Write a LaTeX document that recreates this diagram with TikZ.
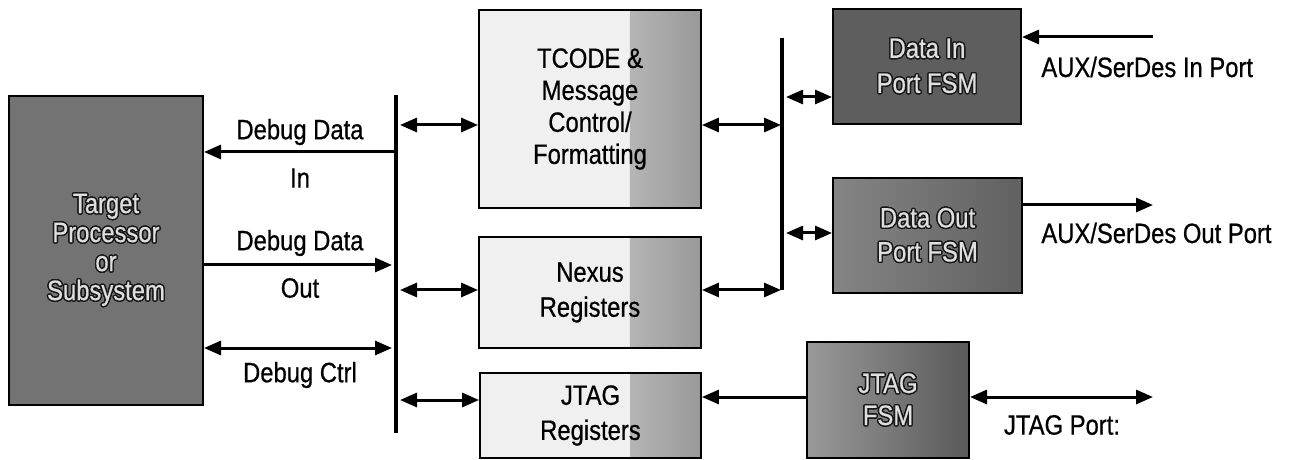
\documentclass[tikz,border=0pt]{standalone}
\usepackage{fontspec}
\setmainfont[FakeStretch=0.85,FakeBold=0.6]{Liberation Sans}
\usepackage{contour}
\contourlength{0.7pt}
\usetikzlibrary{arrows.meta,calc}
\newcommand{\ot}[1]{\contour{black!90}{\textcolor{gray!25}{#1}}}
\begin{document}
\begin{tikzpicture}[x=0.5pt,y=-0.5pt,
  font=\fontsize{14}{16}\selectfont,
  lightbox/.style={draw=black, line width=0.9pt, fill=black!6, align=center, inner sep=0pt,
    path picture={\shade[left color=black!6, right color=black!40]
      ($(path picture bounding box.north east)!0.32!(path picture bounding box.north west)$)
      rectangle (path picture bounding box.south east);}},
  darkbox/.style={draw=black, line width=1pt, align=center, inner sep=0pt},
  bus/.style={line width=1.6pt},
  arr/.style={line width=1.5pt, -{Triangle[length=8.5pt,width=7pt]}},
  dbl/.style={line width=1.5pt, {Triangle[length=8.5pt,width=7pt]}-{Triangle[length=8.5pt,width=7pt]}},
  lbl/.style={inner sep=0pt}
]
\useasboundingbox (0,0) rectangle (1303,460);

% boxes
\node[darkbox, fill=black!55, minimum width=97pt, minimum height=154.5pt, font=\fontsize{14}{14.5}\selectfont]
  (tgt) at (106,250.5) {\ot{Target}\\\ot{Processor}\\\ot{or}\\\ot{Subsystem}};
\node[lightbox, minimum width=111pt, minimum height=99pt] (tc) at (590,109)
  {TCODE \&\\Message\\Control/\\Formatting};
\node[lightbox, minimum width=111pt, minimum height=55.5pt, font=\fontsize{14}{17.5}\selectfont] (nx) at (590,292.5)
  {Nexus\\Registers};
\node[lightbox, minimum width=110.5pt, minimum height=42.5pt, font=\fontsize{14}{17.5}\selectfont] (jr) at (590.5,415.5)
  {JTAG\\Registers};
\node[darkbox, fill=black!63, minimum width=94pt, minimum height=57.5pt, font=\fontsize{14}{17.5}\selectfont] (din) at (927,66.5)
  {\ot{Data In}\\\ot{Port FSM}};
\node[darkbox, left color=black!48, right color=black!62, minimum width=94.5pt, minimum height=57.5pt, font=\fontsize{14}{17}\selectfont] (dout) at (927.5,235.5)
  {\ot{Data Out}\\\ot{Port FSM}};
\node[darkbox, left color=black!40, right color=black!65, minimum width=81pt, minimum height=58pt, font=\fontsize{14}{16}\selectfont] (jf) at (888,400)
  {\ot{JTAG}\\\ot{FSM}};

% buses
\coordinate (lbT) at (396,95);
\coordinate (lbB) at (396,433);
\coordinate (rbT) at (782,38);
\coordinate (rbB) at (782,290);
\draw[bus] (lbT) -- (lbB);
\draw[bus] (rbT) -- (rbB);

% left side connectors
\coordinate (b1) at (396,152);
\coordinate (b2) at (392,265);
\coordinate (b3) at (392,348);
\draw[arr] (b1) -- (tgt.east |- b1);
\draw[arr] (tgt.east |- b2) -- (b2);
\draw[dbl] (tgt.east |- b3) -- (b3);

\node[lbl] (l1) at (300,132) {Debug Data};
\node[lbl] (l2) at (300,178) {In};
\node[lbl] (l3) at (300,243) {Debug Data};
\node[lbl] (l4) at (300,288) {Out};
\node[lbl] (l5) at (300,375) {Debug Ctrl};

% left bus to middle boxes
\coordinate (c1) at (400,125);
\coordinate (c2) at (400,290);
\coordinate (c3) at (400,400);
\draw[dbl] (c1) -- (tc.west |- c1);
\draw[dbl] (c2) -- (nx.west |- c2);
\draw[dbl] (c3) -- (jr.west |- c3);

% middle boxes to right bus
\coordinate (r1) at (781,125);
\coordinate (r2) at (781,290);
\draw[dbl] (tc.east |- r1) -- (r1);
\draw[dbl] (nx.east |- r2) -- (r2);

% right bus to FSMs
\coordinate (r3) at (786,97);
\coordinate (r4) at (786,233);
\draw[dbl] (r3) -- (din.west |- r3);
\draw[dbl] (r4) -- (dout.west |- r4);

% ports
\coordinate (p1) at (1153,37);
\coordinate (p2) at (1153,205);
\coordinate (p3) at (1153,397);
\draw[arr] (p1) -- (din.east |- p1);
\draw[arr] (dout.east |- p2) -- (p2);
\draw[dbl] (jf.east |- p3) -- (p3);
\draw[arr] (jf.west |- p3) -- (jr.east |- p3);

\node[lbl, anchor=west] (pl1) at (1041,67) {AUX/SerDes In Port};
\node[lbl, anchor=west] (pl2) at (1041,233) {AUX/SerDes Out Port};
\node[lbl] (pl3) at (1062,425) {JTAG Port:};
\end{tikzpicture}
\end{document}
